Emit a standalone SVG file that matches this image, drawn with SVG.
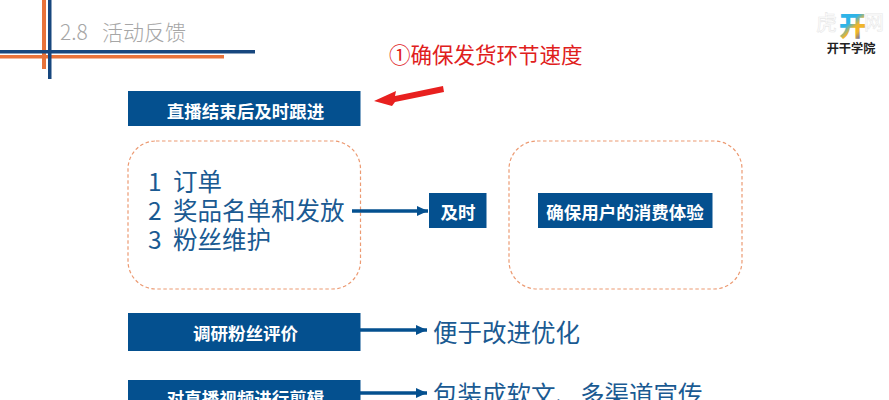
<svg xmlns="http://www.w3.org/2000/svg" width="889" height="400" viewBox="0 0 889 400">
<style>
text{font-family:"Noto Sans CJK SC","Liberation Sans",sans-serif}
.box{fill:#04508f}
.bl{fill:#fff;font-size:17.5px;font-weight:700;text-anchor:middle}
.big{fill:#1a5a92;font-size:24.5px}
.dash{fill:none;stroke:#ec9a72;stroke-width:1.2;stroke-dasharray:3.5 2.500}
.conn{fill:none;stroke:#04508f;stroke-width:3.500;marker-end:url(#ah)}
</style>
<defs>
<marker id="ah" markerUnits="userSpaceOnUse" markerWidth="12" markerHeight="10" refX="11" refY="5" orient="auto"><path d="M0 0L11 5L0 10Z" fill="#04508f"/></marker>
<linearGradient id="lg" gradientUnits="userSpaceOnUse" x1="840" y1="12" x2="864" y2="38"><stop offset="0" stop-color="#2fb4e8"/><stop offset=".4" stop-color="#2fb4e8"/><stop offset=".6" stop-color="#f0b52a"/><stop offset=".75" stop-color="#f0b52a"/><stop offset="1" stop-color="#4a55c8"/></linearGradient>
</defs>
<rect width="889" height="400" fill="#fff"/>
<g id="header">
<rect x="42" y="0" width="4" height="69" fill="#e8733a"/>
<rect x="0" y="55" width="224" height="3.500" fill="#e8733a"/>
<rect x="0" y="50" width="255" height="3.500" fill="#17477e"/>
<rect x="48" y="0" width="3.500" height="79" fill="#17477e"/>
<text x="60" y="40" font-size="21" fill="#a6a6a6" font-weight="300">2.8<tspan x="102">活动反馈</tspan></text>
</g>
<g id="logo">
<text x="816" y="30" font-size="21" fill="none" stroke="#e8e8e8" stroke-width=".6">虎</text>
<text x="864" y="30" font-size="20" fill="none" stroke="#e8e8e8" stroke-width=".6">网</text>
<text x="839" y="36" font-size="27" font-weight="900" fill="url(#lg)">开</text>
<text x="851" y="53" font-size="12.200" font-weight="700" fill="#222" text-anchor="middle">开干学院</text>
</g>
<g id="note">
<text x="389" y="63" font-size="21.500" fill="#e0201c">①确保发货环节速度</text>
</g>
<g id="n1"><rect class="box" x="128" y="91" width="232.500" height="35"/><text class="bl" x="245.500" y="118">直播结束后及时跟进</text></g>
<g id="n2"><rect class="dash" x="128" y="141" width="232.500" height="148" rx="28"/>
<text class="big" x="148" y="191">1<tspan x="173">订单</tspan></text><text class="big" x="148" y="220">2<tspan x="173">奖品名单和发放</tspan></text><text class="big" x="148" y="249">3<tspan x="173">粉丝维护</tspan></text></g>
<g id="n3"><rect class="box" x="429" y="193" width="57.500" height="35"/><text class="bl" x="458" y="219">及时</text></g>
<g id="n4"><rect class="dash" x="509" y="141" width="233" height="148" rx="28"/></g>
<g id="n5"><rect class="box" x="538" y="193" width="174.500" height="35"/><text class="bl" x="625" y="219">确保用户的消费体验</text></g>
<g id="n6"><rect class="box" x="128" y="313" width="232.500" height="38"/><text class="bl" x="245.500" y="340">调研粉丝评价</text></g>
<g id="n7"><text class="big" x="433" y="342">便于改进优化</text></g>
<g id="n8"><rect class="box" x="128" y="380" width="232.500" height="30"/><text class="bl" x="245.500" y="405">对直播视频进行剪辑</text></g>
<g id="n9"><text class="big" x="433" y="404">包装成软文、多渠道宣传</text></g>
<g id="connectors">
<path class="conn" d="M352 211H428"/>
<path class="conn" d="M360 330H427"/>
<path class="conn" d="M360 393H427"/>
<path d="M443 86L395 96L396 91L374 101L392 106L395 102L444 92Z" fill="#e8201f"/>
</g>
</svg>
